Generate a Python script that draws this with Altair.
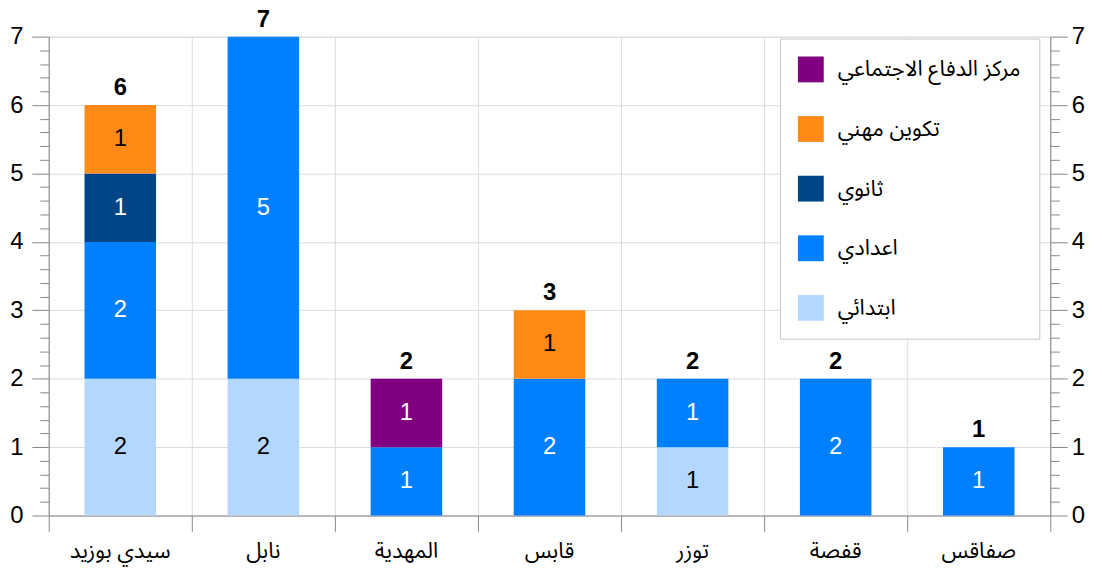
import altair as alt
import pandas as pd

cats = ["سيدي بوزيد", "نابل", "المهدية", "قابس", "توزر", "قفصة", "صفاقس"]
levels = ["ابتدائي", "اعدادي", "ثانوي", "تكوين مهني", "مركز الدفاع الاجتماعي"]
ibtidai = [2, 2, 0, 0, 1, 0, 0]
iadadi = [2, 5, 1, 2, 1, 2, 1]
thanawi = [1, 0, 0, 0, 0, 0, 0]
takwin = [1, 0, 0, 1, 0, 0, 0]
markaz = [0, 0, 1, 0, 0, 0, 0]
colors = ["#b3d7ff", "#0080ff", "#004586", "#ff8a16", "#800080"]

series = [ibtidai, iadadi, thanawi, takwin, markaz]
rows = []
for li, (lev, vals) in enumerate(zip(levels, series)):
    for c, v in zip(cats, vals):
        if v > 0:
            rows.append({"cat": c, "level": lev, "rank": li, "value": v})
df = pd.DataFrame(rows)

y_ticks = [round(i * 0.2, 1) for i in range(36)]
IS_MAJOR = "abs(datum.value - round(datum.value)) < 0.01"

FONT = "Liberation Sans, Noto Sans, DejaVu Sans"
AFONT = "Noto Sans Arabic, Noto Naskh Arabic, DejaVu Sans, Noto Sans"
W, H = 1008, 482
xscale = alt.Scale(paddingInner=0, paddingOuter=0)
yscale = alt.Scale(domain=[0, 7], nice=False, zero=True)

x_axis = alt.Axis(
    title=None, labelAngle=0, labelFontSize=22, labelFont=AFONT, labelColor="#000000",
    labelBaseline="alphabetic", labelPadding=26, tickSize=16,
    tickColor="#888888", domainColor="#888888",
    grid=True, gridColor="#dddddd", bandPosition=1, tickExtra=True,
)
X = alt.X("cat:N", sort=cats, scale=xscale, axis=x_axis)


def yaxis(orient, grid, pad):
    return alt.Axis(
        values=y_ticks, orient=orient, title=None,
        labelFontSize=24, labelFont=FONT, labelColor="#000000", labelPadding=pad,
        labelExpr=f"{IS_MAJOR} ? format(datum.value, 'd') : ''", labelOverlap=False,
        tickSize={"condition": {"test": IS_MAJOR, "value": 17}, "value": 9},
        tickColor="#888888", domainColor="#888888",
        grid=grid, gridColor="#dddddd",
        gridOpacity={"condition": {"test": IS_MAJOR, "value": 1}, "value": 0},
    )


base = alt.Chart(df)

bars = base.mark_bar(width=alt.RelativeBandSize(0.5)).encode(
    x=X,
    y=alt.Y("value:Q", stack="zero", scale=yscale, axis=yaxis("left", True, 9)),
    color=alt.Color(
        "level:N",
        scale=alt.Scale(domain=levels[::-1], range=colors[::-1]),
        legend=alt.Legend(
            orient="none", legendX=736, legendY=2, title=None,
            symbolType="square", symbolSize=676, symbolStrokeWidth=0,
            labelFontSize=22, labelFont=AFONT, labelColor="#000000", labelOffset=14,
            rowPadding=34, padding=18, fillColor="white", strokeColor="#c8c8c8",
            labelLimit=300,
        ),
    ),
    order=alt.Order("rank:Q", sort="ascending"),
)

seg = base.transform_stack(
    stack="value", groupby=["cat"], sort=[alt.SortField("rank", order="ascending")],
    as_=["y0", "y1"],
).transform_calculate(mid="(datum.y0 + datum.y1) / 2").mark_text(
    fontSize=24, font=FONT
).encode(
    x=X,
    y=alt.Y("mid:Q", scale=yscale, axis=None),
    text="value:Q",
    color=alt.condition(
        alt.FieldOneOfPredicate(field="level", oneOf=["اعدادي", "ثانوي", "مركز الدفاع الاجتماعي"]),
        alt.value("white"), alt.value("black"),
    ),
)

tot_base = base.transform_aggregate(total="sum(value)", groupby=["cat"])
totals = tot_base.mark_text(
    fontSize=24, font=FONT, fontWeight="bold", baseline="alphabetic", dy=-10, color="black"
).encode(
    x=X, y=alt.Y("total:Q", scale=yscale, axis=None), text="total:Q"
)

ax_right = tot_base.mark_text(opacity=0).encode(
    x=X, y=alt.Y("total:Q", scale=yscale, axis=yaxis("right", False, 4)), text="total:Q")

chart = alt.layer(bars, seg, totals, ax_right).resolve_scale(
    y="independent"
).resolve_axis(y="independent").properties(
    width=W, height=H,
    autosize=alt.AutoSizeParams(type="none"),
    padding={"left": 41, "top": 27, "right": 44, "bottom": 55},
).configure_view(stroke=None).configure(background="white")

chart.save("out.html", embed_options={"renderer": "svg", "actions": False})
